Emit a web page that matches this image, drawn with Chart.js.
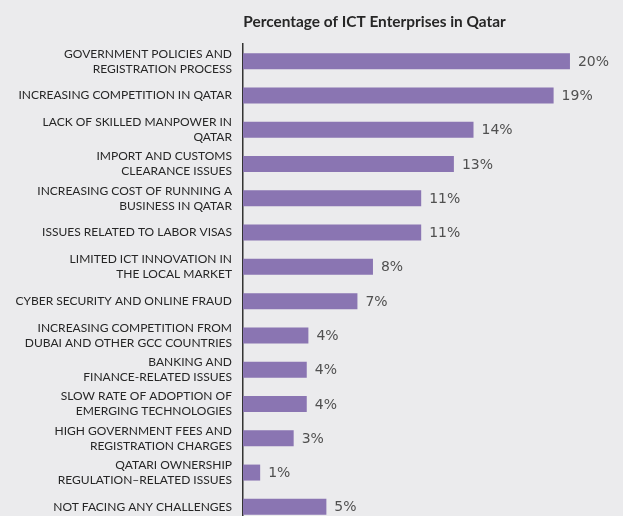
<!DOCTYPE html>
<html>
<head>
<meta charset="utf-8">
<script src="https://cdn.jsdelivr.net/npm/chart.js@4"></script>
<style>
  html, body { margin: 0; padding: 0; background: #ebebed; overflow: hidden; }
  #wrap { position: relative; width: 623px; height: 530px; }
</style>
</head>
<body>
<div id="wrap"><canvas id="c" width="623" height="530" style="width:623px;height:530px"></canvas></div>
<script>
const chartTitle = 'Percentage of ICT Enterprises in Qatar';
const categories = [
  ['GOVERNMENT POLICIES AND', 'REGISTRATION PROCESS'],
  'INCREASING COMPETITION IN QATAR',
  ['LACK OF SKILLED MANPOWER IN', 'QATAR'],
  ['IMPORT AND CUSTOMS', 'CLEARANCE ISSUES'],
  ['INCREASING COST OF RUNNING A', 'BUSINESS IN QATAR'],
  'ISSUES RELATED TO LABOR VISAS',
  ['LIMITED ICT INNOVATION IN', 'THE LOCAL MARKET'],
  'CYBER SECURITY AND ONLINE FRAUD',
  ['INCREASING COMPETITION FROM', 'DUBAI AND OTHER GCC COUNTRIES'],
  ['BANKING AND', 'FINANCE-RELATED ISSUES'],
  ['SLOW RATE OF ADOPTION OF', 'EMERGING TECHNOLOGIES'],
  ['HIGH GOVERNMENT FEES AND', 'REGISTRATION CHARGES'],
  ['QATARI OWNERSHIP', 'REGULATION\u2013RELATED ISSUES'],
  'NOT FACING ANY CHALLENGES'
];
const values = [20, 19, 14.1, 12.9, 10.9, 10.9, 7.95, 7.0, 4.0, 3.9, 3.9, 3.1, 1.05, 5.1];
const valueLabels = ['20%', '19%', '14%', '13%', '11%', '11%', '8%', '7%', '4%', '4%', '4%', '3%', '1%', '5%'];

const extras = {
  id: 'extras',
  afterDatasetsDraw(chart) {
    const ctx = chart.ctx;
    const meta = chart.getDatasetMeta(0);
    ctx.save();
    ctx.font = '14px "DejaVu Sans", sans-serif';
    ctx.fillStyle = '#505050';
    ctx.textAlign = 'left';
    ctx.textBaseline = 'middle';
    meta.data.forEach((bar, i) => {
      ctx.fillText(valueLabels[i], bar.x + 8, bar.y + 1);
    });
    ctx.font = 'bold 15.4px Lato, sans-serif';
    ctx.fillStyle = '#262626';
    ctx.textAlign = 'center';
    ctx.fillText(chartTitle, 374.5, 22);
    ctx.restore();
  }
};

new Chart(document.getElementById('c'), {
  type: 'bar',
  data: {
    labels: categories,
    datasets: [{
      data: values,
      backgroundColor: '#8a75b2',
      borderWidth: 0,
      barPercentage: 0.466,
      categoryPercentage: 1.0
    }]
  },
  options: {
    indexAxis: 'y',
    responsive: false,
    animation: false,
    layout: { padding: { top: 44, bottom: 6, right: 4, left: 0 } },
    plugins: { legend: { display: false }, tooltip: { enabled: false }, title: { display: false } },
    scales: {
      x: { display: false, min: 0, max: 23 },
      y: {
        afterFit(scale) { scale.width = 243; scale.paddingTop = 0; scale.paddingBottom = 0; },
        grid: { display: false, drawTicks: false },
        border: { display: true, color: '#333333', width: 1.5 },
        ticks: {
          padding: 11,
          color: '#262626',
          font: { family: 'Lato, sans-serif', size: 12, lineHeight: 1.25 },
          crossAlign: 'near'
        }
      }
    }
  },
  plugins: [extras]
});
</script>
</body>
</html>
